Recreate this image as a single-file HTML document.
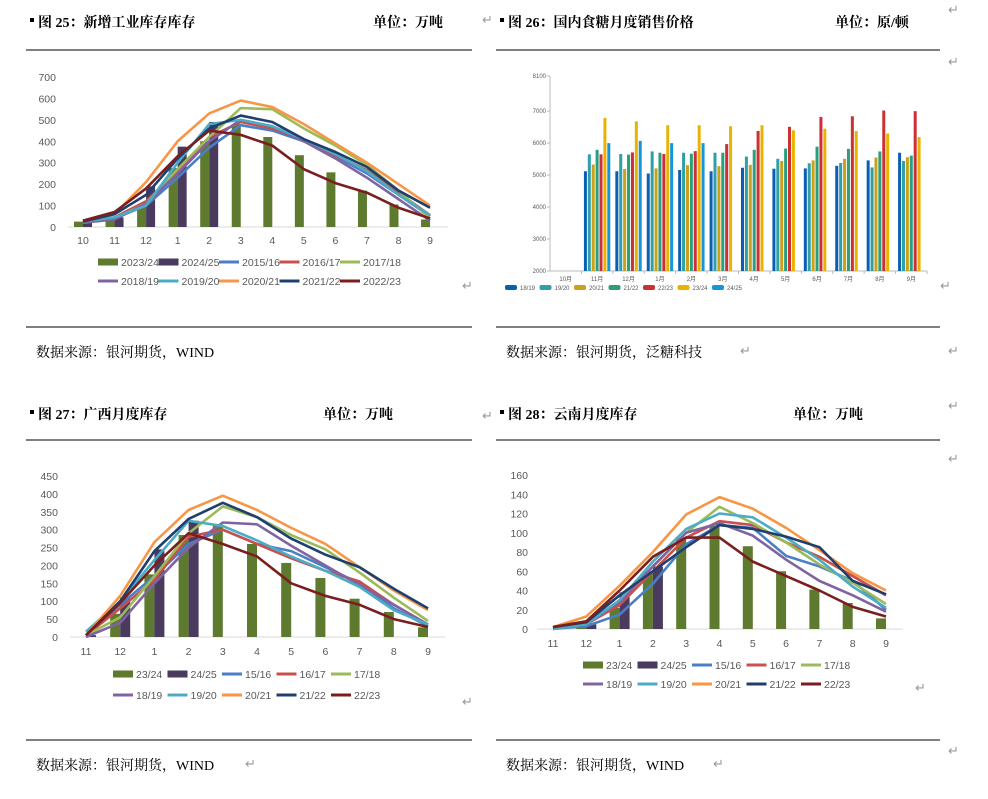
<!DOCTYPE html>
<html><head><meta charset="utf-8">
<style>
body{margin:0;background:#fff;width:988px;height:799px;overflow:hidden;font-family:"Liberation Serif","Noto Serif CJK SC",serif;}
svg{position:absolute;left:0;top:0}
</style></head><body>
<svg id="s" width="988" height="799" xmlns="http://www.w3.org/2000/svg"></svg>
<script>
const S=document.getElementById('s');let h='';
const C={g:'#5d7a2e',p:'#4a3a5e',a:'#4a7fc8',b:'#c9504c',c:'#9bbb59',d:'#8064a2',e:'#4bacc6',f:'#f79646',k:'#1f3f6e',m:'#7a1e1e'};
function T(x,y,t,o){o=o||{};h+=`<text x="${x}" y="${y}" font-size="${o.s||11}" fill="${o.c||'#595959'}" text-anchor="${o.a||'start'}" font-family="${o.f||'Liberation Sans,sans-serif'}" ${o.w?'font-weight="bold"':''}>${t}</text>`;}
function L(x1,y1,x2,y2,c,w){h+=`<line x1="${x1}" y1="${y1}" x2="${x2}" y2="${y2}" stroke="${c}" stroke-width="${w||1}"/>`;}
function R(x,y,w,hh,c){h+=`<rect x="${x}" y="${y}" width="${w}" height="${hh}" fill="${c}"/>`;}
const CN='Liberation Serif,Noto Serif CJK SC,serif';
function head(x,y,t,u,ux,lx2,ly,by,src){R(x,y-9,4,4,'#000');T(x+8,y,t,{s:14,c:'#000',w:1,f:CN});T(ux,y,u,{s:14,c:'#000',w:1,f:CN});L(x-4,ly,lx2,ly,'#000',1);L(x-4,by,lx2,by,'#000',1);T(x+6,by+30,src,{s:14,c:'#000',f:CN});}
head(30,27,'图 25：新增工业库存库存','单位：万吨',373,472,50,327,'数据来源：银河期货，WIND');
head(500,27,'图 26：国内食糖月度销售价格','单位：原/顿',835,940,50,327,'数据来源：银河期货，泛糖科技');
head(30,419,'图 27：广西月度库存','单位：万吨',323,472,440,740,'数据来源：银河期货，WIND');
head(500,419,'图 28：云南月度库存','单位：万吨',793,940,440,740,'数据来源：银河期货，WIND');
[[482,24],[948,14],[948,66],[462,290],[940,290],[948,355],[740,355],[482,420],[948,410],[948,463],[462,706],[915,692],[948,755],[245,768],[713,768]].forEach(p=>T(p[0],p[1],'↵',{s:13,c:'#999'}));
function line(ch,d,c){let pts=d.map((v,i)=>v==null?null:[ch.x0+i*ch.st,ch.y0-v*ch.sc]).filter(p=>p);h+=`<polyline fill="none" stroke="${c}" stroke-width="2.6" stroke-linejoin="round" points="${pts.map(p=>p.join(',')).join(' ')}"/>`;}
function chart(ch){
 for(let i=0;i<=ch.n;i++){let v=i*ch.step;T(ch.lx,ch.y0-v*ch.sc+4,v,{s:10.5,a:'end'});}
 L(ch.ax0,ch.y0,ch.ax1,ch.y0,'#d9d9d9',1);
 ch.cats.forEach((c,i)=>T(ch.x0+i*ch.st,ch.xy,c,{s:10.5,a:'middle'}));
 ch.g.forEach((v,i)=>{if(v!=null)R(ch.x0+i*ch.st-ch.bw,ch.y0-v*ch.sc,ch.bw,v*ch.sc,C.g)});
 ch.p.forEach((v,i)=>{if(v!=null)R(ch.x0+i*ch.st,ch.y0-v*ch.sc,ch.bw,v*ch.sc,C.p)});
 ch.lines.forEach(l=>line(ch,l[0],C[l[1]]));
 const keys=['g','p','a','b','c','d','e','f','k','m'];
 keys.forEach((k,i)=>{let r=Math.floor(i/5),j=i%5;let x=ch.lgx+j*ch.lgs,y=ch.lgy+r*ch.lgr;
  if(i<2)R(x,y-3.5,20,7,C[k]);else L(x,y,x+20,y,C[k],3);
  T(x+23,y+4,ch.names[i],{s:10.5});});
}
chart({x0:83,st:31.55,y0:227,sc:150/700,n:7,step:100,lx:56,ax0:68,ax1:448,xy:244,bw:9,
 cats:[10,11,12,1,2,3,4,5,6,7,8,9],
 g:[25,35,100,275,400,480,420,335,255,170,105,35],p:[20,45,190,375,490],
 lines:[[[20,40,100,230,370,475,450,400,330,250,150,50],'a'],[[25,45,120,260,420,490,460,405,335,265,160,55],'b'],[[20,40,110,270,420,555,550,460,380,290,170,40],'c'],[[20,35,110,250,400,500,470,400,320,230,130,30],'d'],[[25,45,100,300,480,500,470,410,340,260,150,55],'e'],[[25,60,210,400,530,590,560,480,390,300,200,100],'f'],[[25,60,150,320,460,520,490,410,350,280,170,90],'k'],[[30,70,180,330,450,430,380,270,205,160,90,40],'m']],
 names:['2023/24','2024/25','2015/16','2016/17','2017/18','2018/19','2019/20','2020/21','2021/22','2022/23'],lgx:98,lgy:262,lgs:60.5,lgr:19});
chart({x0:86,st:34.2,y0:637,sc:161/450,n:9,step:50,lx:58,ax0:70,ax1:445,xy:655,bw:10,
 cats:[11,12,1,2,3,4,5,6,7,8,9],
 g:[0,65,175,285,315,260,207,165,107,70,27],p:[5,110,245,325],
 lines:[[[5,90,170,260,300,260,240,195,150,80,30],'a'],[[5,80,160,280,300,260,220,185,155,90,35],'b'],[[5,55,170,290,365,335,285,245,180,110,45],'c'],[[0,40,150,250,320,315,255,200,145,90,35],'d'],[[15,100,215,325,310,270,225,185,140,75,35],'e'],[[5,115,265,355,395,355,305,260,195,130,75],'f'],[[5,100,240,330,375,335,275,230,195,135,80],'k'],[[5,95,200,290,260,225,150,115,90,50,28],'m']],
 names:['23/24','24/25','15/16','16/17','17/18','18/19','19/20','20/21','21/22','22/23'],lgx:113,lgy:674,lgs:54.5,lgr:21});
chart({x0:553,st:33.3,y0:629,sc:154/160,n:8,step:20,lx:528,ax0:537,ax1:903,xy:647,bw:10,
 cats:[11,12,1,2,3,4,5,6,7,8,9],
 g:[0,2,22,60,95,107,86,60,41,27,11],p:[null,5,38,65],
 lines:[[[0,3,15,47,88,108,105,76,65,50,20],'a'],[[1,5,25,60,95,112,108,90,75,55,35],'b'],[[1,5,30,65,100,127,110,90,67,48,26],'c'],[[1,5,28,65,100,110,97,72,50,35,18],'d'],[[0,5,30,70,104,120,116,95,72,44,22],'e'],[[2,13,45,80,119,137,125,105,82,58,40],'f'],[[2,7,35,60,85,108,104,96,85,50,36],'k'],[[2,8,40,75,95,95,70,55,40,23,13],'m']],
 names:['23/24','24/25','15/16','16/17','17/18','18/19','19/20','20/21','21/22','22/23'],lgx:583,lgy:665,lgs:54.5,lgr:19});
(function(){const x0=550,x1=927,y0=271,y1=76,sc=(y0-y1)/6100;const cw=(x1-x0)/12;
L(x0,y1,x0,y0,'#bbb');L(x0,y0,x1,y0,'#bbb');
[2000,3000,4000,5000,6000,7000,8100].forEach(v=>{let y=y0-(v-2000)*sc;T(x0-4,y+2,v,{s:6,a:'end'});L(x0-3,y,x0,y,'#bbb');});
const m=['10月','11月','12月','1月','2月','3月','4月','5月','6月','7月','8月','9月'];
m.forEach((t,i)=>{T(x0+cw*(i+.5),y0+10,t,{s:6,a:'middle'});L(x0+cw*(i+1),y0,x0+cw*(i+1),y0+3,'#bbb');});
const cols=['#0a5fb4','#2f9fa8','#c9a11a','#2a9e7e','#cc2f35','#e9b300','#1696d8'];
const D=[null,[5120,5650,5330,5790,5650,6790,6000],[5120,5660,5190,5640,5710,6680,6070],[5050,5740,5210,5700,5660,6560,6000],[5160,5700,5310,5670,5750,6560,6000],[5120,5700,5280,5700,5970,6530],[5230,5580,5320,5790,6380,6560],[5200,5510,5440,5830,6510,6400],[5210,5370,5460,5890,6820,6450],[5290,5380,5510,5820,6840,6380],[5460,5240,5550,5740,7020,6300],[5700,5440,5560,5610,7000,6190]];
D.forEach((g,i)=>{if(!g)return;g.forEach((v,j)=>{let x=x0+cw*i+2.5+j*3.9;R(x,y0-(v-2000)*sc,3,(v-2000)*sc,cols[j]);});});
const n=['18/19','19/20','20/21','21/22','22/23','23/24','24/25'];
n.forEach((t,i)=>{let x=505+i*34.5;h+=`<rect x="${x}" y="285" width="12" height="5" rx="2" fill="${cols[i]}"/>`;T(x+15,290,t,{s:6});});
})();
S.innerHTML=h;
</script>
</body></html>
